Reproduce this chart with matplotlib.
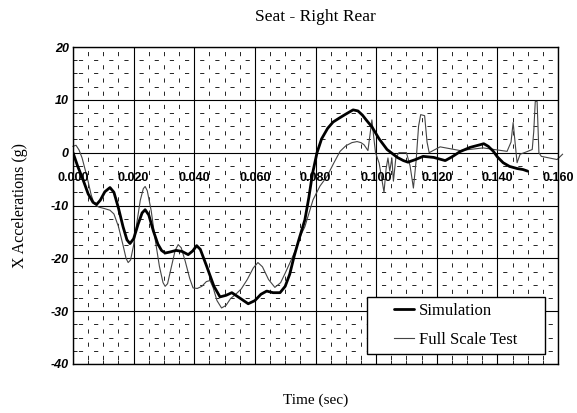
import matplotlib
matplotlib.use("Agg")
import matplotlib.pyplot as plt
from matplotlib.patches import Rectangle
from matplotlib.ticker import MultipleLocator
import numpy as np

plt.rcParams['lines.scale_dashes'] = False

# simulation trace (time in sec, accel in g)
sim_t = [0.000, 0.0015, 0.0033, 0.005, 0.0066, 0.0078, 0.009, 0.0105, 0.0122, 0.0135,
         0.0150, 0.0165, 0.0178, 0.0188, 0.0200, 0.0215, 0.0228, 0.0238, 0.0250, 0.0265,
         0.0280, 0.0292, 0.0304, 0.0320, 0.0340, 0.0360, 0.0380, 0.0395, 0.0408, 0.0420,
         0.0441, 0.0465, 0.0485, 0.0505, 0.0524, 0.055, 0.0578, 0.0600, 0.0620, 0.0639,
         0.0660, 0.0683, 0.0700, 0.0715, 0.0730, 0.0745, 0.0765, 0.0778, 0.0790, 0.0805,
         0.0820, 0.0840, 0.0858, 0.0880, 0.0900, 0.0924, 0.0940, 0.0955, 0.0970, 0.0986,
         0.1010, 0.1036, 0.1070, 0.1090, 0.1105, 0.1130, 0.1155, 0.1190, 0.1228, 0.1250,
         0.1277, 0.1310, 0.1343, 0.1355, 0.1370, 0.1386, 0.1400, 0.1419, 0.1440, 0.1465,
         0.1485, 0.150]
sim_g = [0.0, -2.5, -5.1, -7.8, -9.4, -9.8, -9.0, -7.4, -6.6, -7.5,
         -10.5, -14.0, -16.5, -17.2, -16.3, -13.5, -11.4, -10.8, -11.8, -14.8,
         -17.3, -18.5, -19.0, -18.8, -18.5, -18.7, -19.3, -18.6, -17.6, -18.3,
         -21.5, -25.3, -27.3, -27.0, -26.5, -27.5, -28.6, -28.0, -26.8, -26.2,
         -26.5, -26.5, -25.3, -23.0, -19.5, -16.5, -12.7, -8.5, -4.0, 0.0,
         2.6, 4.6, 5.8, 6.6, 7.3, 8.1, 7.9, 7.1, 6.0, 4.9,
         2.6, 0.6, -0.9, -1.5, -1.8, -1.3, -0.7, -0.9, -1.5, -0.8,
         0.2, 1.0, 1.5, 1.7, 1.2, 0.3, -0.8, -1.9, -2.6, -3.0,
         -3.2, -3.5]

# full scale test trace
test_t = [0.000, 0.0010, 0.0020, 0.0030, 0.0040, 0.0050, 0.0060, 0.0070, 0.0085, 0.0105,
          0.0122, 0.0135, 0.0150, 0.0165, 0.0175, 0.0182, 0.0190, 0.0200, 0.0210, 0.0222,
          0.0232, 0.0238, 0.0245, 0.0258, 0.0270, 0.0285, 0.0297, 0.0304, 0.0312, 0.0325,
          0.0337, 0.0347, 0.0357, 0.0370, 0.0385, 0.0396, 0.0410, 0.0425, 0.0440, 0.0452,
          0.0462, 0.0475, 0.0490, 0.0505, 0.0520, 0.0535, 0.0555, 0.0575, 0.0595, 0.0610,
          0.0625, 0.0645, 0.0666, 0.0685, 0.0700, 0.0716, 0.0735, 0.0750, 0.0765, 0.0792,
          0.0815, 0.0838, 0.0860, 0.0881, 0.0900, 0.0920, 0.0937, 0.0950, 0.0960, 0.0973,
          0.0980, 0.0986, 0.0992, 0.0998, 0.1010, 0.1026, 0.1033, 0.1039, 0.1045, 0.1052,
          0.1057, 0.1065, 0.1075, 0.1100, 0.1112, 0.1123, 0.1132, 0.1140, 0.1147, 0.1160,
          0.1168, 0.1175, 0.1211, 0.1277, 0.1353, 0.1432, 0.1445, 0.1452, 0.1460, 0.1465,
          0.1475, 0.1498, 0.1515, 0.1520, 0.1525, 0.1531, 0.1537, 0.1545, 0.1597, 0.1615]
test_g = [1.2, 1.4, 0.5, -1.0, -3.2, -5.5, -8.0, -9.7, -10.3, -10.6,
          -10.9, -11.6, -14.0, -17.5, -20.0, -20.8, -20.3, -17.5, -13.5, -9.0,
          -6.8, -6.4, -7.2, -11.0, -16.0, -21.5, -24.6, -25.3, -24.8, -21.5,
          -18.5, -17.4, -18.0, -20.5, -23.8, -25.6, -25.7, -25.3, -24.4, -24.2,
          -25.5, -28.0, -29.4, -28.9, -27.6, -26.9, -25.8, -24.0, -21.8, -20.8,
          -21.6, -24.0, -25.5, -24.6, -22.8, -20.8, -18.3, -15.8, -14.0, -8.9,
          -6.3, -4.5, -2.0, 0.25, 1.3, 1.9, 2.1, 1.9, 1.5, 0.4,
          3.5, 6.2, 3.0, 0.0, -2.0, -7.5, -3.0, -1.0, -3.5, -1.0,
          -5.4, -1.0, 0.0, 0.0, -2.5, -6.7, -1.5, 5.0, 7.2, 7.0,
          2.0, 0.0, 1.1, 0.4, 0.9, 0.25, 2.0, 5.7, 1.0, -1.9,
          -0.3, 0.2, 0.6, 4.0, 9.7, 9.7, 0.0, -0.7, -1.3, -0.3]

x_ticks = [0.000, 0.020, 0.040, 0.060, 0.080, 0.100, 0.120, 0.140, 0.160]
y_ticks = [20, 10, 0, -10, -20, -30, -40]

serif = 'Liberation Serif'
sans = 'Liberation Sans'

fig = plt.figure(figsize=(5.77, 4.13), dpi=100)
ax = fig.add_axes([73/577, 1-364/413, 485/577, 317/413])

ax.set_xlim(0, 0.16)
ax.set_ylim(-40, 20)

ax.xaxis.set_major_locator(MultipleLocator(0.02))
ax.yaxis.set_major_locator(MultipleLocator(10))
ax.xaxis.set_minor_locator(MultipleLocator(0.005))
ax.yaxis.set_minor_locator(MultipleLocator(2.5))
ax.grid(which='major', color='black', linewidth=0.8)
# minor grid: short dashes sitting midway between the minor lines
ax.xaxis.grid(which='minor', color='black', linewidth=0.6, linestyle=(6.26, (3, 6.51)))
ax.yaxis.grid(which='minor', color='black', linewidth=0.6, linestyle=(7.0, (3, 7.91)))
ax.set_axisbelow(True)

ax.tick_params(which='both', direction='in', top=False, right=False)
ax.tick_params(which='major', length=0)
ax.tick_params(which='minor', length=3, width=0.6)
ax.set_xticklabels([])
ax.set_yticks(y_ticks)
ax.set_yticklabels([str(v) for v in y_ticks], fontfamily=sans, fontweight='bold',
                   fontstyle='italic', fontsize=9)
ax.tick_params(axis='y', pad=3)

for s in ax.spines.values():
    s.set_linewidth(1.0)

ax.plot(test_t, test_g, color='#444444', linewidth=0.8, label='Full Scale Test',
        clip_on=False, solid_joinstyle='round')
ax.plot(sim_t, sim_g, color='black', linewidth=2.0, label='Simulation',
        solid_joinstyle='round', solid_capstyle='round')

# x tick labels sit just under the zero line
for t in x_ticks:
    ax.text(t, -4.8, f"{t:.3f}", ha='center', va='center', fontfamily=sans,
            fontweight='bold', fontsize=9)

ax.set_title('Seat - Right Rear', fontfamily=serif, fontsize=12.5, pad=19)
ax.set_ylabel('X Accelerations (g)', fontfamily=serif, fontsize=11.5, labelpad=16)
ax.set_xlabel('Time (sec)', fontfamily=serif, fontsize=11, labelpad=18)

# legend box
x0 = (367-73)/485
y0 = (364-354)/317
ax.add_patch(Rectangle((x0, y0), (545-367)/485, (354-297)/317, transform=ax.transAxes,
                       facecolor='white', edgecolor='black', linewidth=1.0, zorder=4))
handles, labels = ax.get_legend_handles_labels()
leg = ax.legend(handles[::-1], labels[::-1], loc='center left',
                bbox_to_anchor=((394-73)/485, y0 + (354-297)/317/2),
                frameon=False, prop={'family': serif, 'size': 12},
                handlelength=1.2, handletextpad=0.3, labelspacing=0.75,
                borderpad=0, borderaxespad=0)
leg.set_zorder(5)

plt.savefig("out.png", dpi=100)
